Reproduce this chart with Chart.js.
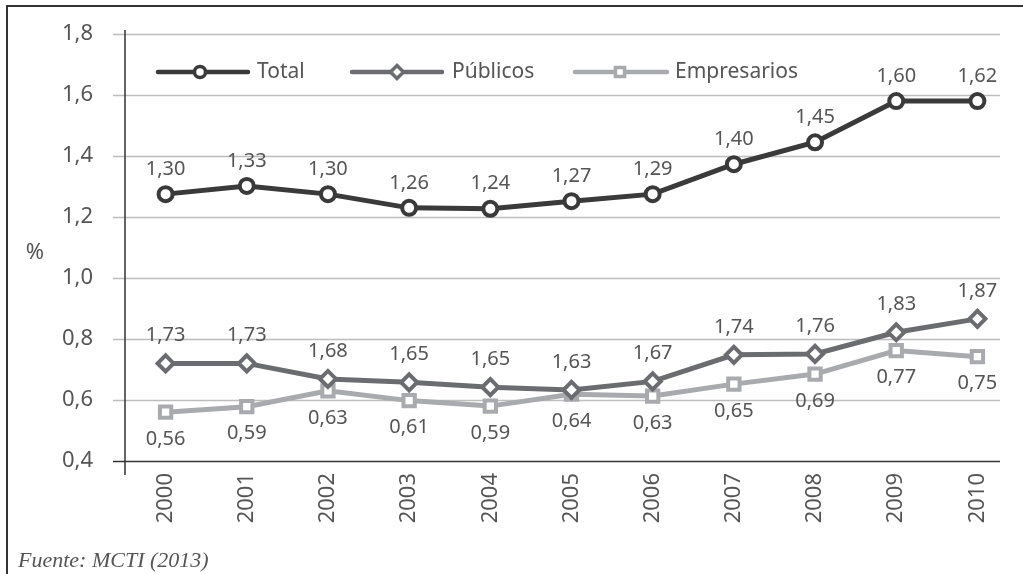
<!DOCTYPE html>
<html lang="es">
<head>
<meta charset="UTF-8">
<title>Gasto en I+D</title>
<script src="https://cdn.jsdelivr.net/npm/chart.js"></script>
<style>
  html, body { margin: 0; padding: 0; background: #fff; }
  #wrap { position: absolute; left: 0; top: 0; width: 1023px; height: 574px; }
</style>
</head>
<body>
<div id="wrap"><canvas id="chart" width="1023" height="574"></canvas></div>
<script>
    // datos
    const years = ['2000', '2001', '2002', '2003', '2004', '2005', '2006', '2007', '2008', '2009', '2010'];
    const total = [1.275, 1.302, 1.275, 1.230, 1.227, 1.252, 1.275, 1.373, 1.445, 1.580, 1.580];
    const publicos = [0.720, 0.720, 0.669, 0.658, 0.642, 0.633, 0.661, 0.748, 0.751, 0.822, 0.866];
    const empresarios = [0.560, 0.578, 0.630, 0.598, 0.580, 0.619, 0.613, 0.652, 0.685, 0.762, 0.742];
    // etiquetas tal como aparecen en la figura
    const totalLabels = ['1,30', '1,33', '1,30', '1,26', '1,24', '1,27', '1,29', '1,40', '1,45', '1,60', '1,62'];
    const publicosLabels = ['1,73', '1,73', '1,68', '1,65', '1,65', '1,63', '1,67', '1,74', '1,76', '1,83', '1,87'];
    const empresariosLabels = ['0,56', '0,59', '0,63', '0,61', '0,59', '0,64', '0,63', '0,65', '0,69', '0,77', '0,75'];
    const yTicks = [0.4, 0.6, 0.8, 1.0, 1.2, 1.4, 1.6, 1.8];

    const FONT = '"Noto Sans", sans-serif';
    const TEXT = '#555';
    const C_TOTAL = '#3a3a3a', C_PUB = '#6b6c70', C_EMP = '#a9aaae';
    const GRID_END = 1000;

    const series = [
        { label: 'Total', data: total, color: C_TOTAL, style: 'circle', r: 7, labels: totalLabels, dy: -25 },
        { label: 'Públicos', data: publicos, color: C_PUB, style: 'rectRot', r: 8, labels: publicosLabels, dy: -28 },
        { label: 'Empresarios', data: empresarios, color: C_EMP, style: 'rect', r: 8, labels: empresariosLabels, dy: 27 }
    ];

    const decor = {
        id: 'decor',
        beforeDatasetsDraw(chart) {
            const ctx = chart.ctx;
            const a = chart.chartArea;
            const y = chart.scales.y;
            ctx.save();
            ctx.strokeStyle = '#333';
            ctx.lineWidth = 2;
            ctx.beginPath();
            ctx.moveTo(7, 574); ctx.lineTo(7, 6); ctx.lineTo(1023, 6);
            ctx.stroke();
            // líneas de la cuadrícula, cortas a la derecha como en el original
            yTicks.forEach(v => {
                const py = Math.round(y.getPixelForValue(v)) + 0.5;
                ctx.strokeStyle = v === 0.4 ? '#333' : '#bdbdbd';
                ctx.lineWidth = 1.5;
                ctx.beginPath();
                ctx.moveTo(a.left - 12, py);
                ctx.lineTo(GRID_END, py);
                ctx.stroke();
            });
            // eje vertical que baja por debajo del eje x
            ctx.strokeStyle = '#333';
            ctx.lineWidth = 1.5;
            ctx.beginPath();
            ctx.moveTo(a.left, a.top - 4);
            ctx.lineTo(a.left, a.bottom + 14);
            ctx.stroke();
            ctx.restore();
        },
        afterDraw(chart) {
            const ctx = chart.ctx;
            ctx.save();
            ctx.fillStyle = TEXT;
            ctx.font = '22px ' + FONT;
            ctx.textAlign = 'center';
            ctx.textBaseline = 'middle';
            ctx.fillText('%', 35, 253);

            // leyenda
            const leg = [[158, 248, 200, 257], [352, 442, 397, 452], [575, 667, 620, 675]];
            series.forEach((s, i) => {
                const [x0, x1, xm, xt] = leg[i];
                const y = 72;
                ctx.strokeStyle = s.color;
                ctx.lineWidth = 4.5;
                ctx.lineCap = 'round';
                ctx.beginPath();
                ctx.moveTo(x0, y); ctx.lineTo(x1, y);
                ctx.stroke();
                ctx.fillStyle = '#fff';
                ctx.strokeStyle = s.color;
                ctx.lineWidth = 3.5;
                Chart.helpers.drawPoint(ctx, { pointStyle: s.style, radius: s.r - 1.5, borderWidth: 3.5, rotation: 0 }, xm, y);
                ctx.fillStyle = TEXT;
                ctx.font = '21px ' + FONT;
                ctx.textAlign = 'left';
                ctx.fillText(s.label, xt, y);
            });

            // etiquetas de datos
            ctx.font = '20px ' + FONT;
            ctx.textAlign = 'center';
            ctx.fillStyle = TEXT;
            series.forEach((s, i) => {
                chart.getDatasetMeta(i).data.forEach((pt, j) => {
                    ctx.fillText(s.labels[j], pt.x, pt.y + s.dy);
                });
            });

            ctx.font = 'italic 22px "Liberation Serif", serif';
            ctx.textAlign = 'left';
            ctx.fillText('Fuente: MCTI (2013)', 18, 561);
            ctx.restore();
        }
    };

    new Chart(document.getElementById('chart'), {
        type: 'line',
        data: {
            labels: years,
            datasets: series.map(s => ({
                label: s.label,
                data: s.data,
                borderColor: s.color,
                borderWidth: 5,
                tension: 0,
                pointStyle: s.style,
                pointRadius: s.r,
                pointBorderWidth: 4,
                pointBackgroundColor: '#fff',
                pointBorderColor: s.color,
                clip: false
            }))
        },
        options: {
            responsive: false,
            animation: false,
            events: [],
            layout: { autoPadding: false, padding: { left: 0, top: 34, right: 5, bottom: 0 } },
            plugins: { legend: { display: false }, tooltip: { enabled: false } },
            scales: {
                x: {
                    offset: true,
                    grid: { display: false, drawTicks: false },
                    border: { display: false },
                    ticks: { color: TEXT, font: { family: FONT, size: 22 }, minRotation: 90, maxRotation: 90, padding: 12 },
                    afterFit(scale) {
                        scale.height = 113;
                        scale.paddingLeft = 0;
                        scale.paddingRight = 0;
                    }
                },
                y: {
                    min: 0.4,
                    max: 1.8,
                    afterBuildTicks(scale) { scale.ticks = yTicks.map(v => ({ value: v })); },
                    border: { display: false },
                    grid: { color: 'rgba(0,0,0,0)', drawOnChartArea: false, tickLength: 12 },
                    ticks: {
                        color: TEXT,
                        font: { family: FONT, size: 22 },
                        padding: 20,
                        callback: v => v.toFixed(1).replace('.', ',')
                    },
                    afterFit(scale) {
                        scale.width = 125;
                        scale.paddingTop = 0;
                        scale.paddingBottom = 0;
                    }
                }
            }
        },
        plugins: [decor]
    });
</script>
</body>
</html>
